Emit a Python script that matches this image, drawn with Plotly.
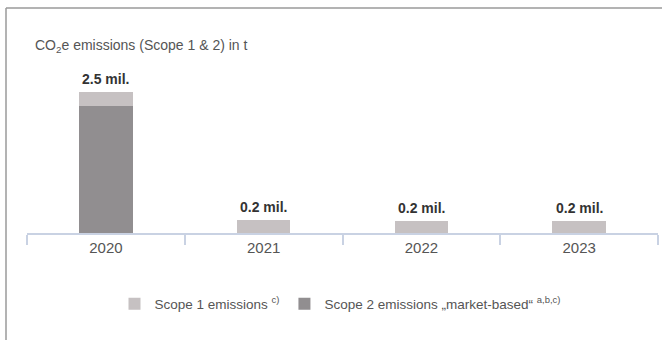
import plotly.graph_objects as go

years = ["2020", "2021", "2022", "2023"]
scope1 = [0.25, 0.23, 0.21, 0.21]
scope2 = [2.25, 0.0, 0.0, 0.0]
totals = [a + b for a, b in zip(scope1, scope2)]
total_labels = ["2.5 mil.", "0.2 mil.", "0.2 mil.", "0.2 mil."]

c1 = "#c6c1c2"
c2 = "#918e90"
FONT = "Liberation Sans, Arial, sans-serif"

fig = go.Figure()
fig.add_trace(go.Bar(x=years, y=scope2, name="Scope 2 emissions „market-based“ <sup>a,b,c)</sup>",
                     marker=dict(color=c2, line=dict(width=0)), width=0.34, legendrank=2,
                     hoverinfo="skip"))
fig.add_trace(go.Bar(x=years, y=scope1, name="Scope 1 emissions <sup>c)</sup>",
                     marker=dict(color=c1, line=dict(width=0)), width=0.34, legendrank=1,
                     hoverinfo="skip"))

L, R, T, B = 27, 4, 60, 107          # plot-area edges in screen pixels
W, H = 662 - L - R, 340 - T - B
def px(x):
    return (x - L) / W
def py(y):
    return (340 - B - y) / H

annotations = [dict(text="CO<sub>2</sub>e emissions (Scope 1 & 2) in t", xref="paper", yref="paper",
                    x=px(33), y=py(46), xanchor="left", yanchor="middle", showarrow=False,
                    font=dict(size=14, color="#555555"))]
for i, (tot, lab) in enumerate(zip(totals, total_labels)):
    annotations.append(dict(x=i, y=tot, xref="x", yref="y", text=lab, showarrow=False,
                            yanchor="bottom", yshift=3,
                            font=dict(size=14, color="#333333", family=FONT, weight="bold")))

fig.update_layout(
    width=662, height=340,
    margin=dict(l=L, r=R, t=T, b=B),
    barmode="stack",
    plot_bgcolor="white", paper_bgcolor="white",
    font=dict(family=FONT, color="#555555", size=14),
    showlegend=True,
    legend=dict(orientation="h", x=px(340), xanchor="center", y=py(304), yanchor="middle",
                font=dict(size=13.5, color="#555555"), traceorder="normal",
                itemclick=False, itemdoubleclick=False, tracegroupgap=0),
    xaxis=dict(type="category", range=[-0.5, 3.5], showline=True, linecolor="#c9d2e3", linewidth=1.5,
               ticks="outside", tickson="boundaries", ticklen=10, tickcolor="#c9d2e3", tickwidth=1.5,
               tickfont=dict(size=15, color="#555555"), showgrid=False, fixedrange=True),
    yaxis=dict(range=[0, 3.07], visible=False, showgrid=False, zeroline=False, fixedrange=True),
    annotations=annotations,
    shapes=[
        dict(type="line", xref="paper", yref="paper", x0=px(6), x1=px(670), y0=py(8), y1=py(8),
             line=dict(color="#9a9a9a", width=1.5)),
        dict(type="line", xref="paper", yref="paper", x0=px(6), x1=px(6), y0=py(8), y1=py(345),
             line=dict(color="#9a9a9a", width=1.5)),
    ],
)

fig.write_html("out.html", config={"displayModeBar": False},
               post_script="document.body.style.margin='0';")
